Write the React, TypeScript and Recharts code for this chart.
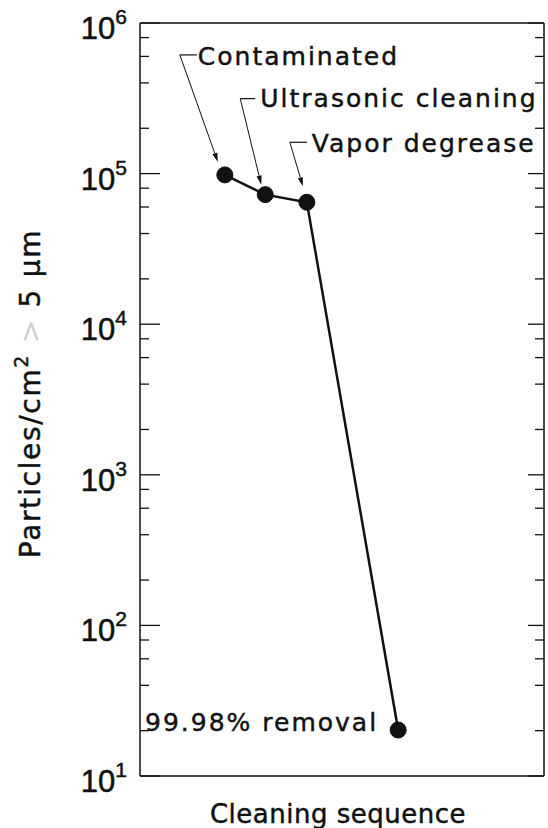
import { LineChart, Line, XAxis, YAxis, ReferenceLine, LabelList } from "recharts";

// cleaning steps, in order
const stepNames = ["Contaminated", "Ultrasonic cleaning", "Vapor degrease", "99.98% removal"];
const stepPositions = [2.1, 3.1, 4.13, 6.39];
const particleCounts = [98000, 72500, 64500, 20.2];

const decadeTicks = [10, 100, 1000, 10000, 100000, 1000000];
const minorFactors = [2, 4, 6, 8];

const data = stepNames.map((name, i) => ({
  name,
  x: stepPositions[i],
  y: particleCounts[i],
}));

const allTicks = decadeTicks
  .flatMap((d, i) => (i < decadeTicks.length - 1 ? [d, ...minorFactors.map((f) => d * f)] : [d]));

const TEXT_FONT = "'DejaVu Sans', sans-serif";
const INK = "#111";

// where each callout sits relative to its dot
const callouts = [
  { hook: [-45, -120], hookEnd: [-28, -120], text: [-27, -110], tip: [-7, -13], anchor: "start" },
  { hook: [-25, -96], hookEnd: [-10, -96], text: [-5, -88], tip: [-4, -10], anchor: "start" },
  { hook: [-17, -60], hookEnd: [0, -60], text: [5, -50], tip: [-4, -16], anchor: "start" },
  { text: [-20, 1], anchor: "end" },
];

const isDecade = (v: number) => Math.abs(Math.log10(v) - Math.round(Math.log10(v))) < 1e-6;

const LeftTick = ({ x, y, payload }: any) => {
  const v = payload.value;
  const major = isDecade(v);
  return (
    <g>
      <line x1={x} x2={x + (major ? 20 : 9)} y1={y} y2={y} stroke={INK} strokeWidth={1.3} />
      {major && (
        <text
          x={x - 13}
          y={y + 16}
          textAnchor="end"
          fill={INK}
          stroke={INK}
          strokeWidth={0.5}
          fontFamily="'Liberation Sans', Arial, sans-serif"
          fontSize={31}
        >
          10
          <tspan dy={-15} fontSize={21}>
            {Math.round(Math.log10(v))}
          </tspan>
        </text>
      )}
    </g>
  );
};

const RightTick = ({ x, y, payload }: any) => {
  const major = isDecade(payload.value);
  return <line x1={x} x2={x - (major ? 16 : 9)} y1={y} y2={y} stroke={INK} strokeWidth={1.3} />;
};

const Callout = (props: any) => {
  const { x, y, index, value } = props;
  const c = callouts[index];
  if (!c) return null;
  let arrow = null;
  if (c.hook) {
    const sx = x + c.hook[0];
    const sy = y + c.hook[1];
    const tx = x + c.tip[0];
    const ty = y + c.tip[1];
    const ang = Math.atan2(ty - sy, tx - sx);
    const len = 9;
    const w = 2.6;
    const bx = tx - len * Math.cos(ang);
    const by = ty - len * Math.sin(ang);
    const px = -Math.sin(ang) * w;
    const py = Math.cos(ang) * w;
    arrow = (
      <g>
        <line x1={sx} y1={sy} x2={x + c.hookEnd[0]} y2={y + c.hookEnd[1]} stroke={INK} strokeWidth={1.2} />
        <line x1={sx} y1={sy} x2={bx} y2={by} stroke={INK} strokeWidth={1} />
        <polygon points={`${tx},${ty} ${bx + px},${by + py} ${bx - px},${by - py}`} fill={INK} />
      </g>
    );
  }
  return (
    <g>
      {arrow}
      <text
        x={x + c.text[0]}
        y={y + c.text[1]}
        textAnchor={c.anchor}
        fill={INK}
        stroke={INK}
        strokeWidth={0.45}
        fontFamily={TEXT_FONT}
        fontSize={25}
        letterSpacing={2}
      >
        {value}
      </text>
    </g>
  );
};

const YTitle = ({ viewBox }: any) => {
  const cx = viewBox.x + 40;
  const cy = viewBox.y + viewBox.height / 2 - 6;
  return (
    <text
      x={cx}
      y={cy}
      transform={`rotate(-90, ${cx}, ${cy})`}
      textAnchor="middle"
      fill={INK}
      stroke={INK}
      strokeWidth={0.45}
      fontFamily={TEXT_FONT}
      fontSize={28}
      letterSpacing={1.7}
    >
      Particles/cm
      <tspan dy={-12} fontSize={19}>2</tspan>
      <tspan dy={12} fill="#cfcfcf" stroke="none"> &gt; </tspan>
      5 μm
    </text>
  );
};

const XTitle = ({ viewBox }: any) => (
  <text
    x={viewBox.x + viewBox.width / 2 - 4}
    y={823}
    textAnchor="middle"
    fill={INK}
    stroke={INK}
    strokeWidth={0.45}
    fontFamily={TEXT_FONT}
    fontSize={26}
    letterSpacing={0.5}
  >
    Cleaning sequence
  </text>
);

export default function App() {
  return (
    <div style={{ position: "absolute", left: 0, top: 0, background: "#fff" }}>
      <LineChart width={548} height={828} data={data} margin={{ top: 23, right: 0, bottom: 0, left: 0 }}>
        <XAxis
          dataKey="x"
          type="number"
          domain={[0, 10]}
          tick={false}
          tickLine={false}
          height={52}
          axisLine={{ stroke: INK, strokeWidth: 1.5 }}
          label={{ content: <XTitle /> }}
        />
        <YAxis
          yAxisId="left"
          dataKey="y"
          type="number"
          scale="log"
          domain={[10, 1000000]}
          allowDataOverflow
          ticks={allTicks}
          interval={0}
          width={140}
          tickSize={0}
          tickMargin={0}
          tickLine={false}
          tick={<LeftTick />}
          axisLine={{ stroke: INK, strokeWidth: 1.5 }}
          label={{ content: <YTitle /> }}
        />
        <YAxis
          yAxisId="right"
          orientation="right"
          type="number"
          scale="log"
          domain={[10, 1000000]}
          allowDataOverflow
          ticks={allTicks}
          interval={0}
          width={4}
          tickSize={0}
          tickMargin={0}
          tickLine={false}
          tick={<RightTick />}
          axisLine={{ stroke: INK, strokeWidth: 1.5 }}
        />
        <ReferenceLine yAxisId="left" y={1000000} stroke={INK} strokeWidth={1.5} />
        <Line
          yAxisId="left"
          type="linear"
          dataKey="y"
          stroke={INK}
          strokeWidth={2.5}
          dot={{ r: 8, fill: INK, stroke: INK, strokeWidth: 1 }}
          isAnimationActive={false}
        >
          <LabelList dataKey="name" content={<Callout />} />
        </Line>
      </LineChart>
    </div>
  );
}
